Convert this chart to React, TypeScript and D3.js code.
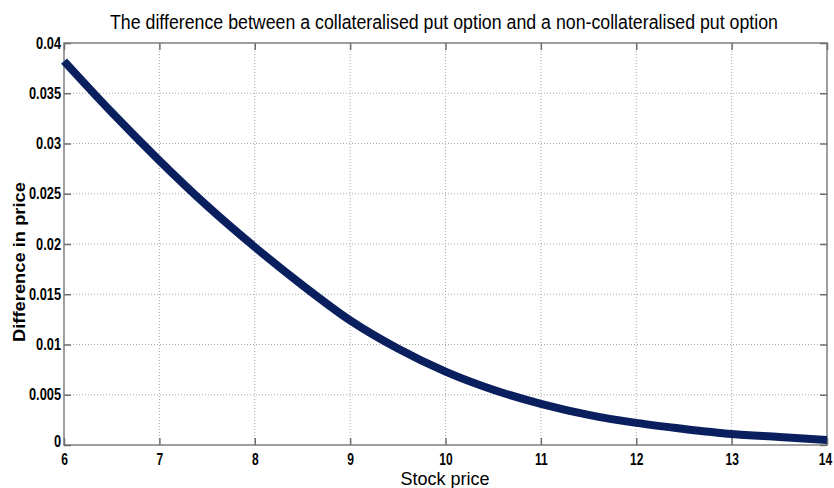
import { useRef, useEffect } from "react";
import * as d3 from "d3";

const stockPrice = [6, 6.5, 7, 7.5, 8, 8.5, 9, 9.5, 10, 10.5, 11, 11.5, 12, 12.5, 13, 13.5, 14];
const priceDiff = [
  0.0382, 0.0331, 0.0283, 0.0238, 0.0197, 0.0159, 0.0124, 0.0096, 0.0073, 0.0055, 0.0041,
  0.003, 0.0022, 0.0016, 0.0011, 0.0008, 0.0005,
];
const xTicks = [6, 7, 8, 9, 10, 11, 12, 13, 14];
const yTicks = [0, 0.005, 0.01, 0.015, 0.02, 0.025, 0.03, 0.035, 0.04];

const W = 834;
const H = 488;
const margin = { top: 43, right: 7, bottom: 43, left: 64 };
const font = "'Liberation Sans', Arial, sans-serif";

function App() {
  const svgRef = useRef<SVGSVGElement>(null);

  useEffect(() => {
    const svg = d3.select(svgRef.current);
    svg.selectAll("*").remove();

    const x0 = margin.left;
    const x1 = W - margin.right;
    const y0 = H - margin.bottom;
    const y1 = margin.top;

    const x = d3.scaleLinear().domain([6, 14]).range([x0, x1]);
    const y = d3.scaleLinear().domain([0, 0.04]).range([y0, y1]);

    // grid
    const grid = svg.append("g").attr("stroke", "#aaaaaa").attr("stroke-dasharray", "1,2");
    grid
      .selectAll(".gx")
      .data(xTicks.slice(1, -1))
      .join("line")
      .attr("x1", (d) => x(d))
      .attr("x2", (d) => x(d))
      .attr("y1", y0)
      .attr("y2", y1);
    grid
      .selectAll(".gy")
      .data(yTicks.slice(1, -1))
      .join("line")
      .attr("x1", x0)
      .attr("x2", x1)
      .attr("y1", (d) => y(d))
      .attr("y2", (d) => y(d));

    // box
    svg
      .append("rect")
      .attr("x", x0)
      .attr("y", y1)
      .attr("width", x1 - x0)
      .attr("height", y0 - y1)
      .attr("fill", "none")
      .attr("stroke", "#7f7f7f")
      .attr("stroke-width", 1.5);

    // axes, ticks pointing inward
    const fmtY = (d: number) => (d === 0 ? "0" : String(+d.toFixed(3)));
    const bottom = svg
      .append("g")
      .attr("transform", `translate(0,${y0})`)
      .call(d3.axisBottom(x).tickValues(xTicks).tickSize(-7).tickPadding(10).tickFormat((d) => String(d)));
    const left = svg
      .append("g")
      .attr("transform", `translate(${x0},0)`)
      .call(d3.axisLeft(y).tickValues(yTicks).tickSize(-7).tickPadding(10).tickFormat((d) => fmtY(+d)));
    const top = svg
      .append("g")
      .attr("transform", `translate(0,${y1})`)
      .call(d3.axisTop(x).tickValues(xTicks).tickSize(-7).tickFormat(() => ""));
    const right = svg
      .append("g")
      .attr("transform", `translate(${x1},0)`)
      .call(d3.axisRight(y).tickValues(yTicks).tickSize(-7).tickFormat(() => ""));

    [bottom, left, top, right].forEach((g) => {
      g.select(".domain").remove();
      g.selectAll(".tick line").attr("stroke", "#6f6f6f").attr("stroke-width", 1.5);
    });
    [bottom, left].forEach((g) => {
      g.selectAll(".tick text")
        .attr("fill", "#000")
        .style("font-family", font)
        .style("font-weight", "bold")
        .style("font-size", "16px")
        .style("transform-box", "fill-box");
    });
    bottom
      .selectAll(".tick text")
      .attr("dy", "0.6em")
      .style("transform-origin", "50% 50%")
      .style("transform", (d) => (d === 14 ? "translateX(-2px) scaleX(0.75)" : "scaleX(0.75)"));
    left
      .selectAll(".tick text")
      .attr("x", -3)
      .style("transform-origin", "100% 50%")
      .style("transform", (d) => (d === 0 ? "translateY(-4px) scaleX(0.8)" : "scaleX(0.8)"));

    // curve
    const line = d3
      .line<number>()
      .x((_, i) => x(stockPrice[i]))
      .y((d) => y(d))
      .curve(d3.curveMonotoneX);
    svg
      .append("path")
      .datum(priceDiff)
      .attr("d", line)
      .attr("fill", "none")
      .attr("stroke", "#0a1f5e")
      .attr("stroke-width", 8);

    // title & labels
    svg
      .append("text")
      .attr("x", 444)
      .attr("y", 29)
      .attr("text-anchor", "middle")
      .attr("textLength", 668)
      .attr("lengthAdjust", "spacingAndGlyphs")
      .style("font-family", font)
      .style("font-size", "20px")
      .text("The difference between a collateralised put option and a non-collateralised put option");
    svg
      .append("text")
      .attr("x", 445)
      .attr("y", 485)
      .attr("text-anchor", "middle")
      .attr("textLength", 89)
      .attr("lengthAdjust", "spacingAndGlyphs")
      .style("font-family", font)
      .style("font-size", "19px")
      .text("Stock price");
    svg
      .append("text")
      .attr("transform", `translate(25,262) rotate(-90)`)
      .attr("text-anchor", "middle")
      .attr("textLength", 160)
      .attr("lengthAdjust", "spacingAndGlyphs")
      .style("font-family", font)
      .style("font-weight", "bold")
      .style("font-size", "17px")
      .text("Difference in price");
  }, []);

  return (
    <svg
      ref={svgRef}
      width={W}
      height={H}
      style={{ position: "absolute", left: 0, top: 0, background: "#fff" }}
    />
  );
}

export default App;
